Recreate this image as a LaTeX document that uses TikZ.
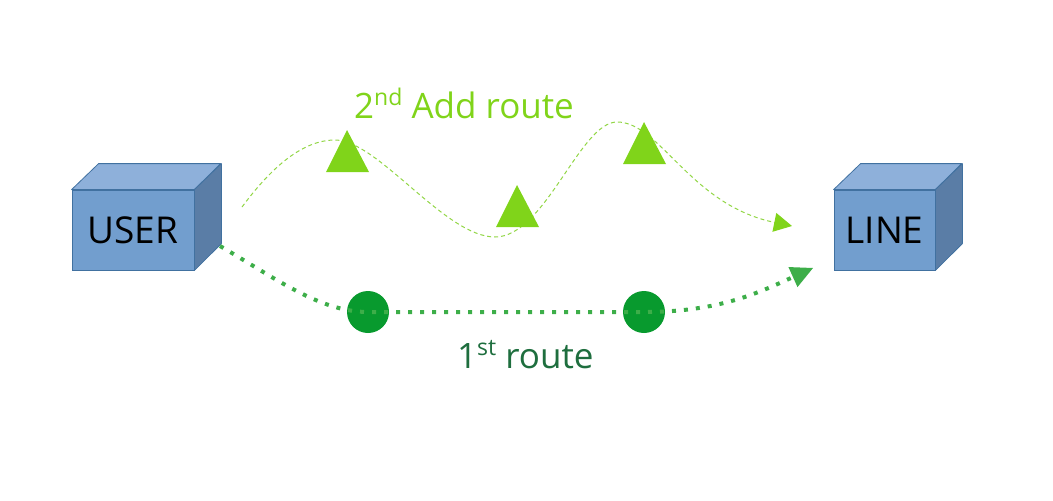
\documentclass[tikz,border=0pt]{standalone}
\usepackage{fontspec}
\setmainfont{Open Sans}
\usetikzlibrary{arrows.meta}
\definecolor{cubefront}{RGB}{114,158,206}
\definecolor{cubetop}{RGB}{142,176,218}
\definecolor{cuberight}{RGB}{90,125,166}
\definecolor{cubeedge}{RGB}{65,113,160}
\definecolor{lightg}{RGB}{128,212,26}
\definecolor{dashg}{RGB}{146,214,70}
\definecolor{dotg}{RGB}{61,174,73}
\definecolor{circg}{RGB}{8,154,46}
\definecolor{darkg}{RGB}{30,110,62}
\tikzset{
  front/.style={draw=cubeedge, line width=0.8pt, fill=cubefront, inner sep=0pt, font=\fontsize{37}{40}\selectfont},
  face/.style={draw=cubeedge, line width=0.8pt, line join=round},
  trimark/.style={fill=lightg},
  dotmark/.style={circle, fill=circg, minimum size=42pt, inner sep=0pt},
  addroute/.style={draw=dashg, line width=1pt, dash pattern=on 4pt off 3pt, -{Triangle[length=18pt,width=19pt,fill=lightg,color=lightg]}},
  firstroute/.style={draw=dotg, line width=4pt, dash pattern=on 4pt off 8pt, -{Triangle[length=22pt,width=22pt,fill=dotg,color=dotg,line width=0pt]}},
  lbl/.style={anchor=base west, inner sep=0pt, font=\fontsize{35}{38}\selectfont}
}
\newcommand{\supr}[1]{\raisebox{0.36em}{\fontsize{23}{23}\selectfont #1}}
\begin{document}
\begin{tikzpicture}[x=1pt,y=-1pt]
\useasboundingbox (0,0) rectangle (1053,501);
% USER cube
\node[front, minimum width=122pt, minimum height=80pt] (user) at (133,230) {\raisebox{-1pt}{USER}};
\filldraw[face, fill=cubetop] (user.north west) -- ++(27,-26) -- ++(122,0) -- (user.north east) -- cycle;
\filldraw[face, fill=cuberight] (user.north east) -- ++(27,-26) -- ++(0,80) -- (user.south east) -- cycle;
% LINE cube
\node[front, minimum width=101pt, minimum height=80pt] (line) at (884.5,230) {\raisebox{-1pt}{LINE}};
\filldraw[face, fill=cubetop] (line.north west) -- ++(27,-26) -- ++(101,0) -- (line.north east) -- cycle;
\filldraw[face, fill=cuberight] (line.north east) -- ++(27,-26) -- ++(0,80) -- (line.south east) -- cycle;
% coordinates
\coordinate (dstart) at (242,207);
\coordinate (dend) at (792,226);
\coordinate (ustart) at (220,246);
\coordinate (pend) at (813,268);
% 2nd add route
\draw[addroute] (dstart) .. controls (268,172) and (300,140) .. (335,140)
  .. controls (378,140) and (445,237) .. (495,237)
  .. controls (545,237) and (580,122) .. (617,122)
  .. controls (660,122) and (690,205) .. (dend);
\fill[trimark] (347,130) -- (369,172) -- (326,172) -- cycle;
\fill[trimark] (517,185) -- (539,227) -- (496,227) -- cycle;
\fill[trimark] (644,122) -- (666,164) -- (623,164) -- cycle;
% 1st route
\node[dotmark] (c1) at (368,312) {};
\node[dotmark] (c2) at (644,312) {};
\draw[firstroute] (ustart) .. controls (275,278) and (320,312) .. (c1.center) -- (c2.center)
  .. controls (720,312) and (760,292) .. (pend);
% labels
\node[lbl, text=lightg] (l2) at (354,118) {2\supr{nd} Add route};
\node[lbl, text=darkg] (l1) at (457,368) {1\supr{st} route};
\end{tikzpicture}
\end{document}
